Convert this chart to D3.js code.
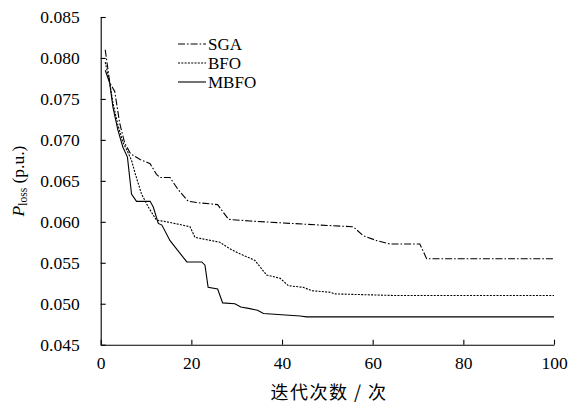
<!DOCTYPE html>
<html>
<head>
<meta charset="utf-8">
<script src="https://cdn.jsdelivr.net/npm/d3@7"></script>
<style>
  html, body { margin: 0; padding: 0; background: #fff; }
  svg { display: block; }
</style>
</head>
<body>
<svg id="chart" width="573" height="404"></svg>
<script>
// ---- data ----
const sgaIter = [1, 2, 3.1, 4.2, 5.3, 6.6, 8.7, 10.9, 12.3, 13.1, 15.3, 17.0, 19.3, 22, 25.8, 28.2, 32.9, 48.4, 55.7, 57.9, 60.9, 63.8, 70.4, 71.9, 100];
const sgaLoss = [0.0810, 0.0770, 0.0759, 0.0720, 0.0696, 0.0683, 0.0676, 0.0671, 0.0658, 0.0654, 0.0654, 0.0640, 0.0625, 0.0623, 0.0621, 0.0603, 0.0601, 0.0596, 0.0594, 0.0583, 0.0577, 0.0573, 0.0573, 0.0555, 0.0555];

const bfoIter = [1, 2, 2.7, 3.8, 4.9, 6.0, 6.8, 7.6, 9.0, 10.5, 12.3, 14.6, 19.7, 20.8, 24.5, 26.3, 28.5, 30.7, 34.0, 36.6, 39.6, 41.4, 44.7, 46.5, 50.6, 51.7, 65.3, 100];
const bfoLoss = [0.0795, 0.0769, 0.0745, 0.0718, 0.0697, 0.0685, 0.0675, 0.0659, 0.0634, 0.0618, 0.0602, 0.0600, 0.0594, 0.0581, 0.0577, 0.0575, 0.0567, 0.0561, 0.0553, 0.0535, 0.0531, 0.0522, 0.0520, 0.0516, 0.0514, 0.0512, 0.0510, 0.0510];

const mbfoIter = [1, 2, 2.7, 3.8, 4.9, 5.9, 6.8, 7.9, 10.9, 11.6, 12.7, 13.5, 15.3, 19.0, 22.3, 23.0, 23.7, 25.8, 26.9, 29.6, 30.9, 32.9, 34.6, 35.9, 44.0, 45.4, 100];
const mbfoLoss = [0.0785, 0.0769, 0.0740, 0.0712, 0.0691, 0.0679, 0.0634, 0.0625, 0.0625, 0.0618, 0.0598, 0.0596, 0.0577, 0.0551, 0.0551, 0.0547, 0.0520, 0.0518, 0.0501, 0.0500, 0.0496, 0.0494, 0.0492, 0.0488, 0.0485, 0.0484, 0.0484];

const seriesNames = ["SGA", "BFO", "MBFO"];
const xTicks = [0, 20, 40, 60, 80, 100];
const yTicks = [0.045, 0.050, 0.055, 0.060, 0.065, 0.070, 0.075, 0.080, 0.085];
const xTitle = "迭代次数 / 次";

// ---- drawing ----
const svg = d3.select("#chart");
const serif = "'Liberation Serif', 'Times New Roman', serif";

const x = d3.scaleLinear().domain([0, 100]).range([100.7, 554]);
const y = d3.scaleLinear().domain([0.045, 0.085]).range([344.7, 17]);

const series = [
  { name: seriesNames[0], it: sgaIter, v: sgaLoss, dash: "7,2,1.6,2" },
  { name: seriesNames[1], it: bfoIter, v: bfoLoss, dash: "2,1.3" },
  { name: seriesNames[2], it: mbfoIter, v: mbfoLoss, dash: null }
];

const line = d3.line().x(d => x(d[0])).y(d => y(d[1]));

series.forEach(s => {
  svg.append("path")
    .attr("d", line(d3.zip(s.it, s.v)))
    .attr("fill", "none")
    .attr("stroke", "#000")
    .attr("stroke-width", 1.1)
    .attr("stroke-dasharray", s.dash);
});

// axes
const xAxis = svg.append("g")
  .attr("transform", `translate(0,${y(0.045)})`)
  .call(d3.axisBottom(x).tickValues(xTicks).tickSize(-5).tickSizeOuter(0).tickPadding(12).tickFormat(d3.format("d")));
const yAxis = svg.append("g")
  .attr("transform", `translate(${x(0)},0)`)
  .call(d3.axisLeft(y).tickValues(yTicks).tickSize(-5).tickSizeOuter(0).tickPadding(21).tickFormat(d3.format(".3f")));

[xAxis, yAxis].forEach(g => {
  g.selectAll("path, line").attr("stroke", "#000").attr("stroke-width", 1.1);
  g.selectAll("text").attr("font-family", serif).attr("font-size", 17.5).attr("fill", "#000");
});

// legend
const lg = svg.append("g");
series.forEach((s, i) => {
  const ly = 44 + i * 19;
  lg.append("line")
    .attr("x1", 178).attr("x2", 206).attr("y1", ly).attr("y2", ly)
    .attr("stroke", "#000").attr("stroke-width", 1.1)
    .attr("stroke-dasharray", s.dash);
  lg.append("text")
    .attr("x", 208).attr("y", ly + 6)
    .attr("font-family", serif).attr("font-size", 17)
    .text(s.name);
});

// y title
const yt = svg.append("text")
  .attr("transform", `translate(24,181) rotate(-90)`)
  .attr("text-anchor", "middle")
  .attr("font-family", serif).attr("font-size", 17.5);
yt.append("tspan").attr("font-style", "italic").text("P");
yt.append("tspan").attr("font-size", 11.5).attr("dy", 3).text("loss");
yt.append("tspan").attr("dy", -3).text(" (p.u.)");

// x title
svg.append("text")
  .attr("x", 329).attr("y", 399)
  .attr("text-anchor", "middle")
  .attr("font-family", "'Noto Sans CJK SC', sans-serif")
  .attr("font-size", 18)
  .attr("letter-spacing", 1.5)
  .text(xTitle);
</script>
</body>
</html>
